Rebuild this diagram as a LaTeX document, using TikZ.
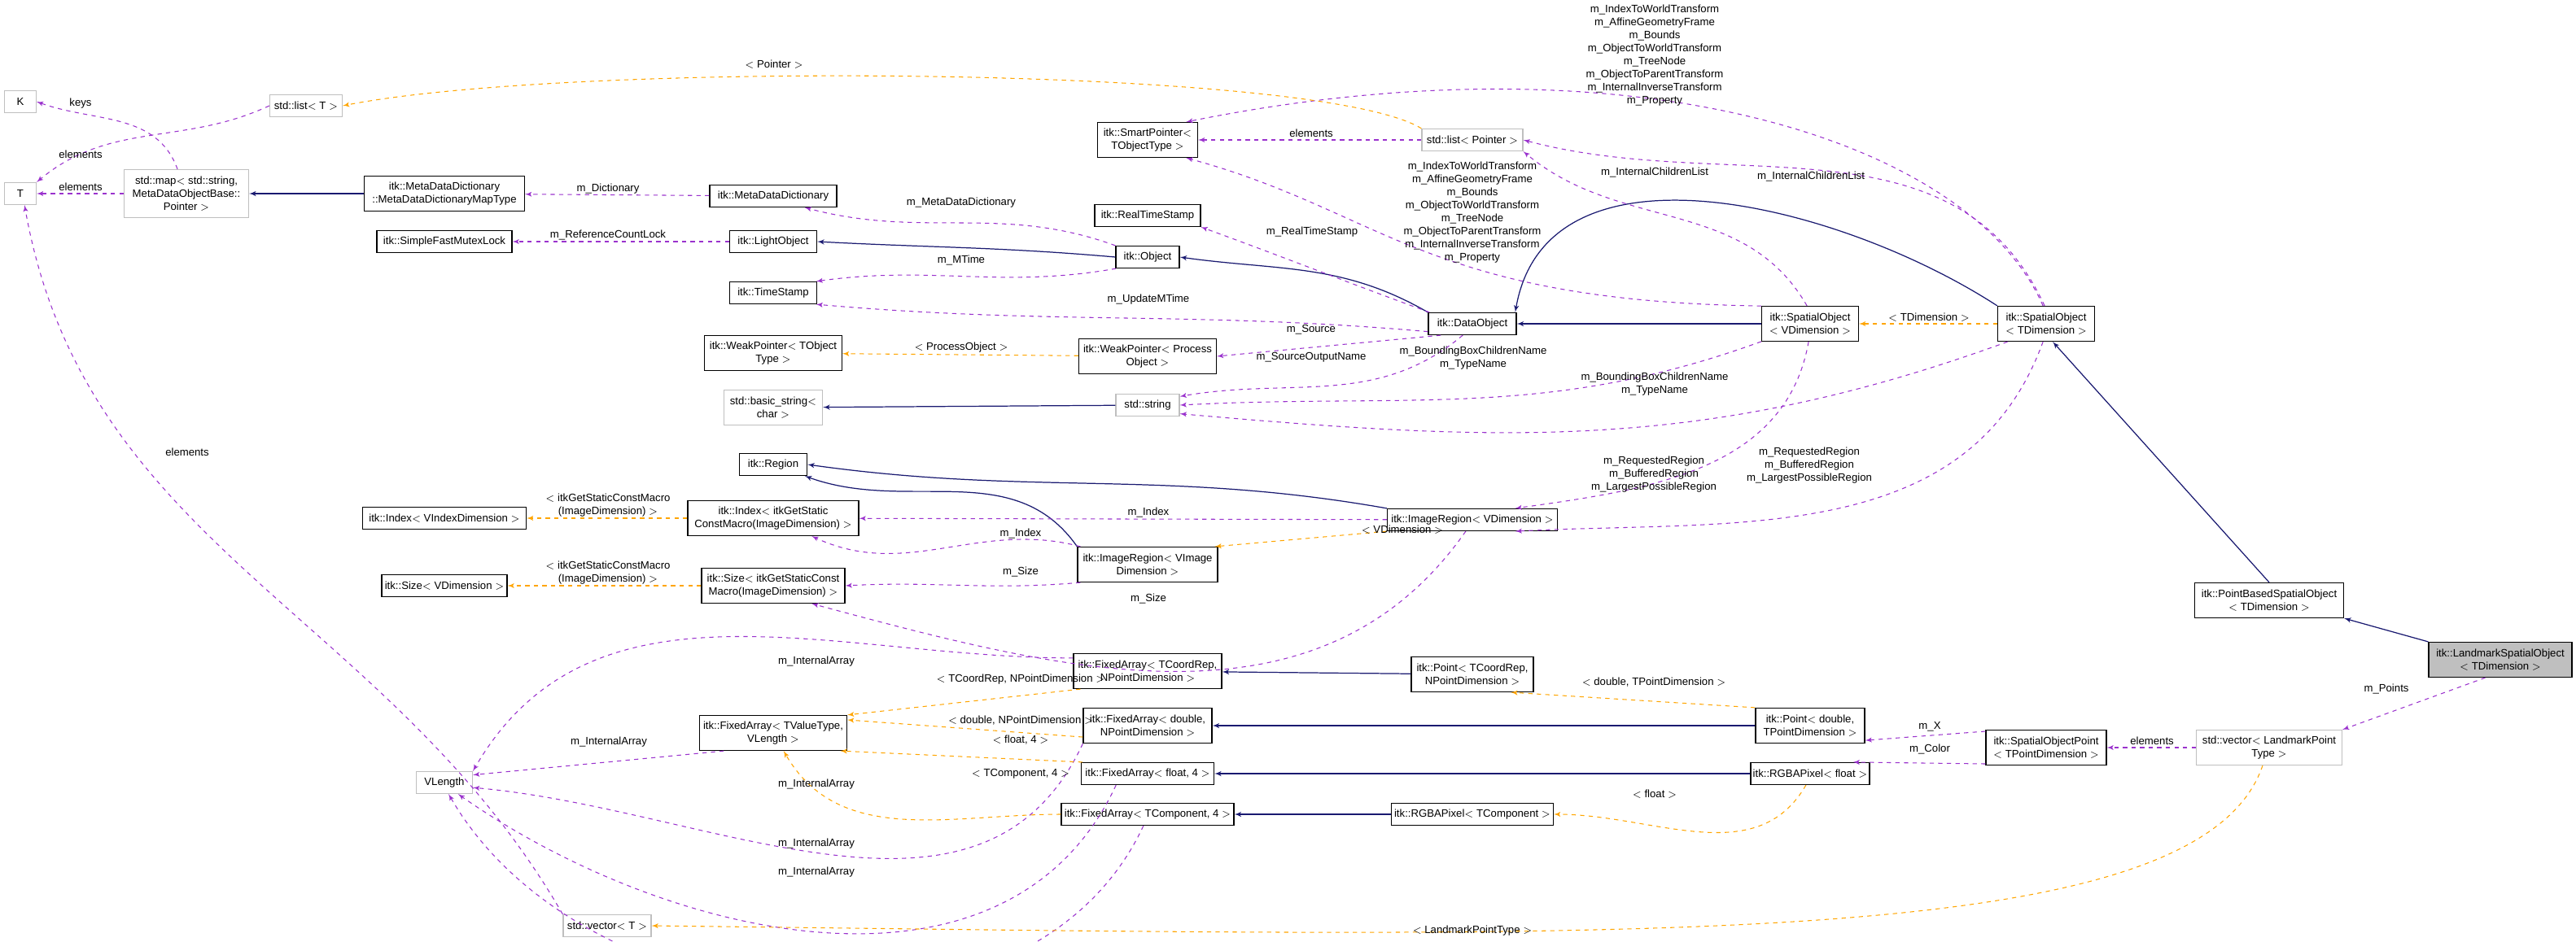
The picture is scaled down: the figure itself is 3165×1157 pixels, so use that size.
\documentclass[tikz,border=0pt]{standalone}
\usepackage{fontspec}
\setmainfont{Liberation Sans}
\usetikzlibrary{shapes, arrows}
\definecolor{inh}{HTML}{191970}
\definecolor{use}{HTML}{9A32CD}
\definecolor{tpl}{HTML}{FFA500}
\definecolor{ext}{HTML}{BFBFBF}
\begin{document}
\begin{tikzpicture}[x=0.2mm, y=-0.2mm, font=\fontsize{7.5}{9.1}\selectfont]
	\tikzstyle{cls} = [rectangle, draw=black, line width=0.7pt, align=center, inner sep=1pt]
	\tikzstyle{std} = [rectangle, draw=ext, line width=0.7pt, align=center, inner sep=1pt]
	\tikzstyle{sz} = [minimum width=#1*0.2mm, minimum height=27*0.2mm]
	\tikzstyle{tall} = [minimum width=#1*0.2mm, minimum height=43*0.2mm]
	\tikzstyle{lbl} = [align=center, inner sep=0pt]
	\tikzstyle{usage} = [draw=use, dashed, line width=0.6pt, -latex']
	\tikzstyle{templ} = [draw=tpl, dashed, line width=0.6pt, -latex']
	\tikzstyle{inherit} = [draw=inh, line width=0.7pt, -latex']
	\useasboundingbox (0,0) rectangle (3165,1157);
	% std classes
	\node [std, sz=39] at (25,125) (k) {K};
	\node [std, sz=39] at (25,238) (t) {T};
	\node [std, sz=89] at (376,130) (listt) {std::list$<$ T $>$};
	\node [std, minimum width=153*0.2mm, minimum height=59*0.2mm] at (229,238) (map) {std::map$<$ std::string,\\MetaDataObjectBase::\\Pointer $>$};
	\node [std, sz=124] at (1809,172) (listptr) {std::list$<$ Pointer $>$};
	\node [std, tall=121] at (950,501) (basicstr) {std::basic\_string$<$\\char $>$};
	\node [std, sz=78] at (1410,498) (string) {std::string};
	\node [std, sz=69] at (546,962) (vlength) {VLength};
	\node [std, sz=108] at (746,1138) (vect) {std::vector$<$ T $>$};
	\node [std, tall=179] at (2788,919) (vecland) {std::vector$<$ LandmarkPoint\\Type $>$};
	% itk classes
	\node [cls, tall=197] at (546,238) (maptype) {itk::MetaDataDictionary\\::MetaDataDictionaryMapType};
	\node [cls, sz=156] at (950,241) (mdd) {itk::MetaDataDictionary};
	\node [cls, sz=166] at (546,297) (mutex) {itk::SimpleFastMutexLock};
	\node [cls, sz=107] at (950,297) (lightobj) {itk::LightObject};
	\node [cls, sz=107] at (950,360) (timestamp) {itk::TimeStamp};
	\node [cls, tall=169] at (950,434) (weakt) {itk::WeakPointer$<$ TObject\\Type $>$};
	\node [cls, tall=123] at (1410,172) (smartptr) {itk::SmartPointer$<$\\TObjectType $>$};
	\node [cls, sz=130] at (1410,265) (realts) {itk::RealTimeStamp};
	\node [cls, sz=78] at (1410,316) (object) {itk::Object};
	\node [cls, sz=108] at (1809,398) (dataobj) {itk::DataObject};
	\node [cls, tall=169] at (1410,438) (weakp) {itk::WeakPointer$<$ Process\\Object $>$};
	\node [cls, tall=119] at (2224,398) (sov) {itk::SpatialObject\\$<$ VDimension $>$};
	\node [cls, tall=119] at (2514,398) (sot) {itk::SpatialObject\\$<$ TDimension $>$};
	\node [cls, sz=83] at (950,571) (region) {itk::Region};
	\node [cls, sz=201] at (546,637) (indexv) {itk::Index$<$ VIndexDimension $>$};
	\node [cls, tall=210] at (950,637) (indexg) {itk::Index$<$ itkGetStatic\\ConstMacro(ImageDimension) $>$};
	\node [cls, sz=209] at (1809,639) (irv) {itk::ImageRegion$<$ VDimension $>$};
	\node [cls, tall=172] at (1410,694) (irvi) {itk::ImageRegion$<$ VImage\\Dimension $>$};
	\node [cls, sz=154] at (546,720) (sizev) {itk::Size$<$ VDimension $>$};
	\node [cls, tall=176] at (950,720) (sizeg) {itk::Size$<$ itkGetStaticConst\\Macro(ImageDimension) $>$};
	\node [cls, tall=182] at (1410,825) (facoord) {itk::FixedArray$<$ TCoordRep,\\NPointDimension $>$};
	\node [cls, tall=150] at (1809,829) (pcoord) {itk::Point$<$ TCoordRep,\\NPointDimension $>$};
	\node [cls, tall=181] at (950,901) (favalue) {itk::FixedArray$<$ TValueType,\\VLength $>$};
	\node [cls, tall=158] at (1410,892) (fadouble) {itk::FixedArray$<$ double,\\NPointDimension $>$};
	\node [cls, sz=163] at (1410,951) (fafloat) {itk::FixedArray$<$ float, 4 $>$};
	\node [cls, sz=212] at (1410,1001) (facomp) {itk::FixedArray$<$ TComponent, 4 $>$};
	\node [cls, sz=199] at (1809,1001) (rgbacomp) {itk::RGBAPixel$<$ TComponent $>$};
	\node [cls, tall=134] at (2224,892) (pdouble) {itk::Point$<$ double,\\TPointDimension $>$};
	\node [cls, sz=146] at (2224,951) (rgbafloat) {itk::RGBAPixel$<$ float $>$};
	\node [cls, tall=148] at (2514,919) (sop) {itk::SpatialObjectPoint\\$<$ TPointDimension $>$};
	\node [cls, tall=183] at (2788,738) (pbso) {itk::PointBasedSpatialObject\\$<$ TDimension $>$};
	\node [cls, tall=176, fill=ext] at (3072,811) (landmark) {itk::LandmarkSpatialObject\\$<$ TDimension $>$};
	% inheritance
	\path [inherit] (maptype) -- (map);
	\path [inherit] (object.west) to[out=175,in=-3] (lightobj.east);
	\path [inherit] (dataobj.north west) to[out=150,in=-8] (object.east);
	\path [inherit] (string) -- (basicstr);
	\path [inherit] (sov) -- (dataobj);
	\path [inherit] (sot.north west) .. controls (2260,250) and (1900,160) .. (dataobj.15);
	\path [inherit] (pbso.north) -- (sot.290);
	\path [inherit] (landmark.north west) -- (pbso.south east);
	\path [inherit] (irv.north west) to[out=170,in=-8] (region.east);
	\path [inherit] (irvi.north west) to[out=125,in=-20] (region.-20);
	\path [inherit] (pcoord) -- (facoord);
	\path [inherit] (pdouble) -- (fadouble);
	\path [inherit] (rgbafloat) -- (fafloat);
	\path [inherit] (rgbacomp) -- (facomp);
	% members
	\path [usage] (map.110) to[out=110,in=-20] (k.east);
	\path [usage] (listt.west) to[out=205,in=40] (t.north east);
	\path [usage] (map) -- (t);
	\path [usage] (vect.north west) to[out=120,in=-80] (t.290);
	\path [usage] (mdd) -- (maptype);
	\path [usage] (object.north west) to[out=160,in=-15] (mdd.-20);
	\path [usage] (lightobj) -- (mutex);
	\path [usage] (object.200) to[out=190,in=8] (timestamp.15);
	\path [usage] (dataobj.190) to[out=175,in=-5] (timestamp.-15);
	\path [usage] (listptr) -- (smartptr);
	\path [usage] (sov.160) .. controls (1750,370) and (1700,260) .. (smartptr.-25);
	\path [usage] (sot.100) .. controls (2420,170) and (2000,40) .. (smartptr.25);
	\path [usage] (sov.100) to[out=120,in=-40] (listptr.south east);
	\path [usage] (sot.95) to[out=115,in=-15] (listptr.east);
	\path [usage] (dataobj.165) to[out=160,in=-20] (realts.south east);
	\path [usage] (dataobj.200) -- (weakp.east);
	\path [usage] (dataobj.230) to[out=220,in=10] (string.15);
	\path [usage] (sov.200) to[out=200,in=3] (string.east);
	\path [usage] (sot.205) to[out=200,in=-5] (string.-15);
	\path [usage] (sov.265) to[out=-100,in=8] (irv.15);
	\path [usage] (sot.260) to[out=-110,in=3] (irv.-15);
	\path [usage] (irv) -- (indexg);
	\path [usage] (irvi.165) to[out=165,in=-25] (indexg.-25);
	\path [usage] (irvi.195) to[out=185,in=3] (sizeg.east);
	\path [usage] (irv.240) to[out=-125,in=-15] (sizeg.-25);
	\path [usage] (facoord.170) to[out=180,in=60] (vlength.north east);
	\path [usage] (favalue.200) -- (vlength.15);
	\path [usage] (fadouble.south west) to[out=-115,in=-5] (vlength.-10);
	\path [usage] (fafloat.200) to[out=-115,in=-35] (vlength.-40);
	\path [usage] (facomp.250) to[out=-115,in=-60] (vlength.-70);
	\path [usage] (sop.165) -- (pdouble.-15);
	\path [usage] (sop.195) -- (rgbafloat.15);
	\path [usage] (vecland) -- (sop);
	\path [usage] (landmark.230) -- (vecland.north east);
	% templates
	\path [templ] (listptr.north west) .. controls (1620,80) and (700,75) .. (listt.east);
	\path [templ] (weakp) -- (weakt);
	\path [templ] (sot) -- (sov);
	\path [templ] (indexg) -- (indexv);
	\path [templ] (sizeg) -- (sizev);
	\path [templ] (irv.south west) -- (irvi.15);
	\path [templ] (facoord.195) -- (favalue.north east);
	\path [templ] (fadouble.190) -- (favalue.10);
	\path [templ] (fafloat.170) -- (favalue.-15);
	\path [templ] (facomp.west) to[out=180,in=-60] (favalue.-60);
	\path [templ] (pdouble.north west) -- (pcoord.-25);
	\path [templ] (rgbafloat.250) to[out=-120,in=0] (rgbacomp.east);
	\path [templ] (vecland.250) .. controls (2700,1175) and (2000,1152) .. (vect.east);
	% labels
	\node [lbl] at (99,127) (lkeys) {keys};
	\node [lbl] at (99,190) (lel1) {elements};
	\node [lbl] at (99,230) (lel2) {elements};
	\node [lbl] at (230,556) (lel3) {elements};
	\node [lbl] at (951,79) (lptr) {$<$ Pointer $>$};
	\node [lbl] at (747,232) (ldict) {m\_Dictionary};
	\node [lbl] at (747,289) (lrefc) {m\_ReferenceCountLock};
	\node [lbl] at (2033,68) (lblock1) {m\_IndexToWorldTransform\\m\_AffineGeometryFrame\\m\_Bounds\\m\_ObjectToWorldTransform\\m\_TreeNode\\m\_ObjectToParentTransform\\m\_InternalInverseTransform\\m\_Property};
	\node [lbl] at (1809,261) (lblock2) {m\_IndexToWorldTransform\\m\_AffineGeometryFrame\\m\_Bounds\\m\_ObjectToWorldTransform\\m\_TreeNode\\m\_ObjectToParentTransform\\m\_InternalInverseTransform\\m\_Property};
	\node [lbl] at (1611,164) (lel4) {elements};
	\node [lbl] at (2033,212) (lchild1) {m\_InternalChildrenList};
	\node [lbl] at (2225,217) (lchild2) {m\_InternalChildrenList};
	\node [lbl] at (1181,249) (lmdd) {m\_MetaDataDictionary};
	\node [lbl] at (1612,285) (lrts) {m\_RealTimeStamp};
	\node [lbl] at (1181,320) (lmtime) {m\_MTime};
	\node [lbl] at (1411,368) (lupd) {m\_UpdateMTime};
	\node [lbl] at (1611,405) (lsrc) {m\_Source};
	\node [lbl] at (1181,427) (lproc) {$<$ ProcessObject $>$};
	\node [lbl] at (1611,439) (lsrcout) {m\_SourceOutputName};
	\node [lbl] at (1810,440) (lbb1) {m\_BoundingBoxChildrenName\\m\_TypeName};
	\node [lbl] at (2033,472) (lbb2) {m\_BoundingBoxChildrenName\\m\_TypeName};
	\node [lbl] at (2370,390) (ltdim) {$<$ TDimension $>$};
	\node [lbl] at (2032,583) (lreg1) {m\_RequestedRegion\\m\_BufferedRegion\\m\_LargestPossibleRegion};
	\node [lbl] at (2223,572) (lreg2) {m\_RequestedRegion\\m\_BufferedRegion\\m\_LargestPossibleRegion};
	\node [lbl] at (747,621) (lmacro1) {$<$ itkGetStaticConstMacro\\(ImageDimension) $>$};
	\node [lbl] at (747,704) (lmacro2) {$<$ itkGetStaticConstMacro\\(ImageDimension) $>$};
	\node [lbl] at (1411,630) (lidx1) {m\_Index};
	\node [lbl] at (1254,656) (lidx2) {m\_Index};
	\node [lbl] at (1723,651) (lvdim) {$<$ VDimension $>$};
	\node [lbl] at (1254,703) (lsize1) {m\_Size};
	\node [lbl] at (1411,736) (lsize2) {m\_Size};
	\node [lbl] at (1003,813) (lia1) {m\_InternalArray};
	\node [lbl] at (1254,835) (ltcoord) {$<$ TCoordRep, NPointDimension $>$};
	\node [lbl] at (1254,886) (ldnp) {$<$ double, NPointDimension $>$};
	\node [lbl] at (1254,910) (lf4) {$<$ float, 4 $>$};
	\node [lbl] at (1254,951) (ltc4) {$<$ TComponent, 4 $>$};
	\node [lbl] at (748,912) (lia2) {m\_InternalArray};
	\node [lbl] at (1003,964) (lia3) {m\_InternalArray};
	\node [lbl] at (1003,1037) (lia4) {m\_InternalArray};
	\node [lbl] at (1003,1072) (lia5) {m\_InternalArray};
	\node [lbl] at (1809,1144) (llpt) {$<$ LandmarkPointType $>$};
	\node [lbl] at (2032,839) (ldtp) {$<$ double, TPointDimension $>$};
	\node [lbl] at (2371,893) (lmx) {m\_X};
	\node [lbl] at (2371,921) (lcolor) {m\_Color};
	\node [lbl] at (2644,911) (lel5) {elements};
	\node [lbl] at (2932,847) (lpoints) {m\_Points};
	\node [lbl] at (2033,976) (lfloat) {$<$ float $>$};
\end{tikzpicture}
\end{document}
